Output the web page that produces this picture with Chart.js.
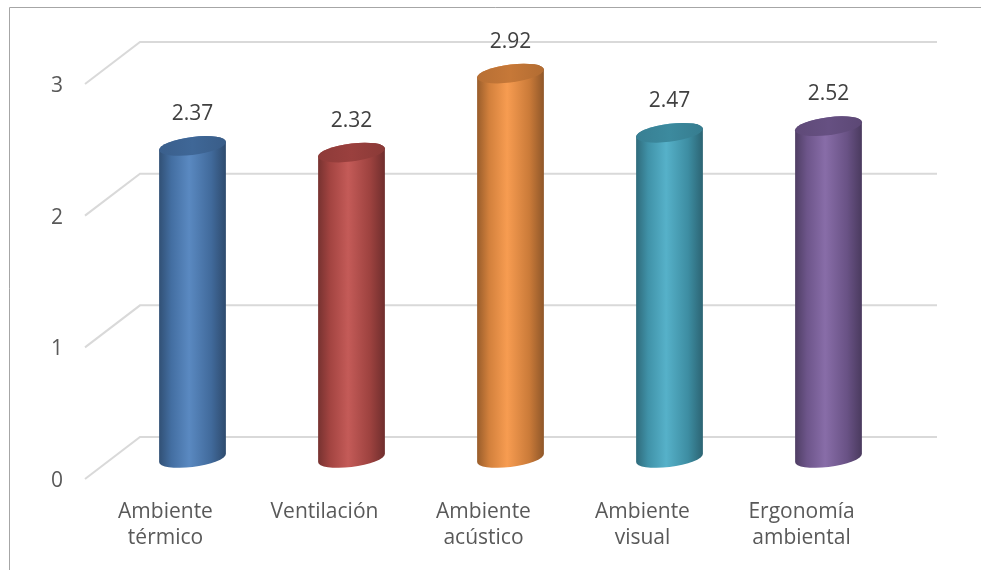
<!DOCTYPE html>
<html lang="es">
<head>
<meta charset="utf-8">
<title>Ambiente de trabajo</title>
<script src="https://cdn.jsdelivr.net/npm/chart.js@4.4.1/dist/chart.umd.min.js"></script>
<style>
  html, body { margin: 0; padding: 0; background: #fff; }
  #wrap { width: 981px; height: 570px; position: relative; }
</style>
</head>
<body>
<div id="wrap"><canvas id="chart"></canvas></div>
<script>
// Valores por dimensión
const categories = [['Ambiente', 'térmico'], 'Ventilación', ['Ambiente', 'acústico'], ['Ambiente', 'visual'], ['Ergonomía', 'ambiental']];
const scores = [2.37, 2.32, 2.92, 2.47, 2.52];
const barColors = ['#4F81BD', '#C0504D', '#F79646', '#4BACC6', '#8064A2'];
const yTicks = [0, 1, 2, 3];

// darken (f < 1) or lighten (f > 1) a hex colour
function shade(hex, f) {
  const n = parseInt(hex.slice(1), 16);
  let c = [n >> 16, (n >> 8) & 255, n & 255];
  c = c.map(v => f <= 1 ? v * f : v + (255 - v) * (f - 1));
  return 'rgb(' + c.map(Math.round).join(',') + ')';
}

const DEPTH = 21;   // half depth of the 3d floor, px
const RY = 9;       // ellipse half height of the cylinders
const TILT = -0.12; // vertical shear so the caps lean like the 3d view

// frame + back wall grid with the slanted side wall
const wallPlugin = {
  id: 'wall',
  beforeDraw(chart) {
    const ctx = chart.ctx;
    ctx.save();
    ctx.fillStyle = '#fff';
    ctx.fillRect(0, 0, chart.width, chart.height);
    ctx.strokeStyle = '#A6A6A6';
    ctx.lineWidth = 1;
    ctx.beginPath();
    ctx.moveTo(9.5, chart.height);
    ctx.lineTo(9.5, 7.5);
    ctx.lineTo(chart.width, 7.5);
    ctx.stroke();
    ctx.restore();
  },
  beforeDatasetsDraw(chart) {
    const ctx = chart.ctx;
    const area = chart.chartArea;
    const y = chart.scales.y;
    const frontX = area.left - 28, backX = area.left + 27, rightX = area.right + 29;
    ctx.save();
    ctx.strokeStyle = '#D9D9D9';
    ctx.lineWidth = 2;
    yTicks.forEach(v => {
      const p = y.getPixelForValue(v);
      ctx.beginPath();
      ctx.moveTo(frontX, p + DEPTH);
      ctx.lineTo(backX, p - DEPTH);
      ctx.lineTo(rightX, p - DEPTH);
      ctx.stroke();
    });
    ctx.restore();
  }
};

// bars drawn as shaded cylinders from the bar elements' geometry
const cylinderPlugin = {
  id: 'cylinders',
  beforeDatasetDraw(chart, args) {
    const ctx = chart.ctx;
    args.meta.data.forEach((bar, i) => {
      const { x, y, base, width } = bar.getProps(['x', 'y', 'base', 'width'], true);
      const color = barColors[i];
      const rx = width / 2;
      ctx.save();
      ctx.translate(x, 0);
      ctx.transform(1, TILT, 0, 1, 0, 0);

      const g = ctx.createLinearGradient(-rx, 0, rx, 0);
      g.addColorStop(0, shade(color, 0.62));
      g.addColorStop(0.18, shade(color, 0.85));
      g.addColorStop(0.45, shade(color, 1.06));
      g.addColorStop(0.78, shade(color, 0.82));
      g.addColorStop(1, shade(color, 0.58));
      ctx.fillStyle = g;
      ctx.beginPath();
      ctx.moveTo(-rx, y);
      ctx.lineTo(-rx, base);
      ctx.ellipse(0, base, rx, RY, 0, Math.PI, 0, true);
      ctx.lineTo(rx, y);
      ctx.ellipse(0, y, rx, RY, 0, 0, Math.PI, true);
      ctx.closePath();
      ctx.fill();

      // top cap
      const t = ctx.createLinearGradient(-rx, 0, rx, 0);
      t.addColorStop(0, shade(color, 0.74));
      t.addColorStop(0.5, shade(color, 0.8));
      t.addColorStop(1, shade(color, 0.72));
      ctx.fillStyle = t;
      ctx.beginPath();
      ctx.ellipse(0, y, rx, RY, 0, 0, Math.PI * 2);
      ctx.fill();
      ctx.restore();
    });
    return false;
  },
  afterDatasetsDraw(chart) {
    const ctx = chart.ctx;
    const meta = chart.getDatasetMeta(0);
    ctx.save();
    ctx.fillStyle = '#404040';
    ctx.font = "21px 'Open Sans', sans-serif";
    ctx.textAlign = 'center';
    ctx.textBaseline = 'middle';
    meta.data.forEach((bar, i) => {
      const { x, y } = bar.getProps(['x', 'y'], true);
      ctx.fillText(scores[i].toFixed(2), x, y - RY - 23);
    });
    ctx.restore();
  }
};

Chart.defaults.font.family = "'Open Sans', sans-serif";
Chart.defaults.font.size = 21;

new Chart(document.getElementById('chart'), {
  type: 'bar',
  data: {
    labels: categories,
    datasets: [{
      data: scores,
      backgroundColor: barColors,
      barPercentage: 0.42,
      categoryPercentage: 1
    }]
  },
  options: {
    responsive: true,
    maintainAspectRatio: false,
    animation: false,
    layout: { padding: { left: 0, right: 73, top: 63, bottom: 0 } },
    plugins: {
      legend: { display: false },
      tooltip: { enabled: false }
    },
    scales: {
      x: {
        grid: { display: false, drawTicks: false },
        border: { display: false },
        ticks: {
          color: '#595959',
          font: { size: 21, lineHeight: 1.24 },
          padding: 41,
          labelOffset: -27,
          maxRotation: 0,
          autoSkip: false
        },
        afterFit: s => { s.height = 112; }
      },
      y: {
        min: 0,
        max: 3,
        grid: { display: false, drawTicks: false },
        border: { display: false },
        ticks: {
          stepSize: 1,
          color: '#595959',
          padding: 50,
          labelOffset: 23,
          callback: v => yTicks.includes(v) ? v : ''
        },
        afterFit: s => { s.width = 113; }
      }
    }
  },
  plugins: [wallPlugin, cylinderPlugin]
});
</script>
</body>
</html>
